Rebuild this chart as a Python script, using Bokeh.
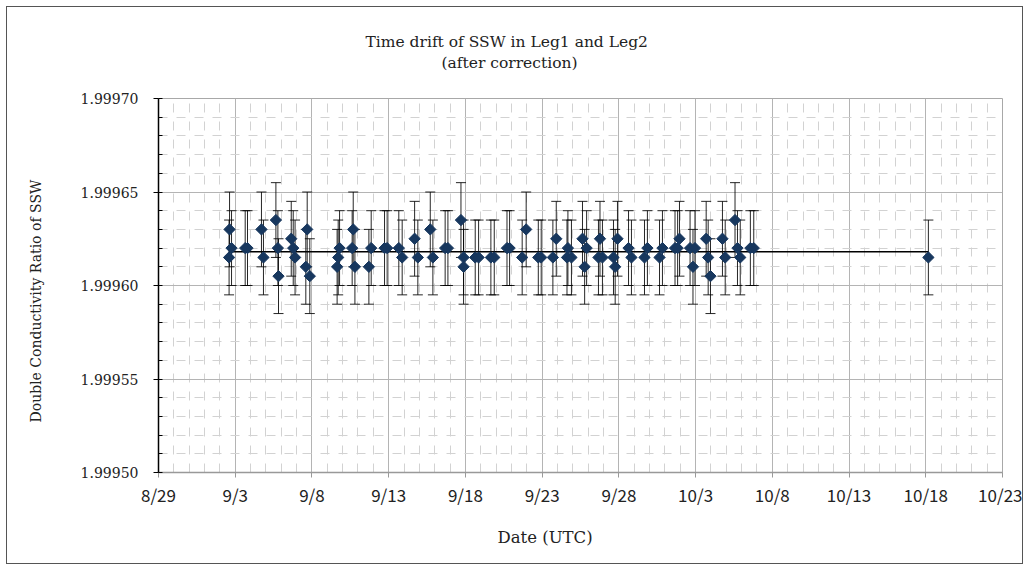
import math
from bokeh.plotting import figure
from bokeh.models import (FixedTicker, PrintfTickFormatter, Whisker, TeeHead,
                          ColumnDataSource, Title, Range1d)
from bokeh.embed import file_html
from bokeh.resources import INLINE

# ---- data (x = days since 8/29, y = double conductivity ratio) ----
DAYS = [
    4.63, 4.76, 4.60, 5.65, 5.80, 6.71, 6.84, 7.65, 7.78, 7.82,
    8.65, 8.78, 8.90, 9.69, 9.60, 9.86, 11.64, 11.71, 11.80, 12.69,
    12.62, 12.80, 13.71, 13.86, 14.73, 14.90, 15.66, 15.88, 16.69, 16.90,
    17.71, 17.88, 18.68, 18.86, 19.71, 19.88, 19.88, 20.64, 20.86, 21.66,
    21.88, 22.71, 22.88, 23.70, 23.96, 24.75, 24.94, 25.70, 25.92, 26.68,
    26.62, 26.91, 27.63, 27.90, 27.77, 28.67, 28.77, 28.93, 29.65, 29.76,
    29.91, 30.63, 30.82, 31.67, 31.86, 32.65, 32.84, 33.66, 33.83, 33.95,
    34.64, 34.96, 34.83, 35.69, 35.82, 35.97, 36.75, 36.93, 37.57, 37.73,
    37.91, 38.57, 38.79, 50.17,
]
VALUES = [
    1.99963, 1.99962, 1.999615, 1.99962, 1.99962, 1.99963, 1.999615, 1.999635, 1.99962, 1.999605,
    1.999625, 1.99962, 1.999615, 1.99963, 1.99961, 1.999605, 1.99961, 1.999615, 1.99962, 1.99963,
    1.99962, 1.99961, 1.99961, 1.99962, 1.99962, 1.99962, 1.99962, 1.999615, 1.999625, 1.999615,
    1.99963, 1.999615, 1.99962, 1.99962, 1.999635, 1.999615, 1.99961, 1.999615, 1.999615, 1.999615,
    1.999615, 1.99962, 1.99962, 1.999615, 1.99963, 1.999615, 1.999615, 1.999615, 1.999625, 1.99962,
    1.999615, 1.999615, 1.999625, 1.99962, 1.99961, 1.999615, 1.999625, 1.999615, 1.999615, 1.99961,
    1.999625, 1.99962, 1.999615, 1.999615, 1.99962, 1.999615, 1.99962, 1.99962, 1.99962, 1.999625,
    1.99962, 1.99962, 1.99961, 1.999625, 1.999615, 1.999605, 1.999625, 1.999615, 1.999635, 1.99962,
    1.999615, 1.99962, 1.99962, 1.999615,
]
ERROR_HALF = 0.00002
MEAN_VALUE = 1.999618

X_TICKS = [0, 5, 10, 15, 20, 25, 30, 35, 40, 45, 50, 55]
X_LABELS = ["8/29", "9/3", "9/8", "9/13", "9/18", "9/23", "9/28",
            "10/3", "10/8", "10/13", "10/18", "10/23"]
Y_TICKS = [1.99950, 1.99955, 1.99960, 1.99965, 1.99970]

TITLE_1 = "Time drift of SSW in Leg1 and Leg2"
TITLE_2 = "(after correction)"
X_TITLE = "Date (UTC)"
Y_TITLE = "Double Conductivity Ratio of  SSW"

SERIF = "DejaVu Serif"
SANS = "Noto Sans CJK JP"

p = figure(output_backend="svg", toolbar_location=None,
           frame_width=844, frame_height=374,
           min_border_left=151, min_border_right=20,
           min_border_top=91, min_border_bottom=84,
           x_range=Range1d(0, 55), y_range=Range1d(1.99950, 1.99970))
p.styles = {"border": "1px solid #555555", "margin": "6px"}
p.background_fill_color = "white"
p.border_fill_color = "white"
p.outline_line_color = "#a8a8a8"

# axes
xt = FixedTicker(ticks=X_TICKS, minor_ticks=list(range(0, 56)))
p.xaxis.ticker = xt
p.xaxis.major_label_overrides = {t: l for t, l in zip(X_TICKS, X_LABELS)}
p.xaxis.major_label_text_font = SANS
p.xaxis.major_label_text_font_size = "17px"
p.xaxis.major_label_text_color = "#222222"
p.xaxis.major_label_standoff = 4
p.xaxis.axis_line_color = "#999999"
p.xaxis.axis_line_width = 1.5
p.xaxis.major_tick_line_color = "#999999"
p.xaxis.major_tick_out = 5
p.xaxis.major_tick_in = 0
p.xaxis.minor_tick_out = 0
p.xaxis.minor_tick_in = 0

ymin = [round(1.99950 + i * 0.00001, 5) for i in range(21)]
yt = FixedTicker(ticks=Y_TICKS, minor_ticks=ymin)
p.yaxis.ticker = yt
p.yaxis.formatter = PrintfTickFormatter(format="%.5f")
p.yaxis.major_label_text_font = SERIF
p.yaxis.major_label_text_font_size = "14px"
p.yaxis.major_label_text_color = "#222222"
p.yaxis.major_label_standoff = 15
p.yaxis.axis_line_color = "black"
p.yaxis.axis_line_width = 1.5
p.yaxis.major_tick_line_color = "black"
p.yaxis.major_tick_out = 5
p.yaxis.major_tick_in = 0
p.yaxis.minor_tick_out = 0
p.yaxis.minor_tick_in = 4
p.yaxis.minor_tick_line_color = "black"

# grids
for g in (p.xgrid, p.ygrid):
    g.grid_line_color = "#b4b4b4"
    g.grid_line_width = 1
    g.minor_grid_line_color = "#d2d2d2"
    g.minor_grid_line_dash = "9 9"
    g.minor_grid_line_width = 1

# data
src = ColumnDataSource(dict(
    x=DAYS, y=VALUES,
    upper=[v + ERROR_HALF for v in VALUES],
    lower=[v - ERROR_HALF for v in VALUES],
))

p.line([min(DAYS), max(DAYS)], [MEAN_VALUE, MEAN_VALUE],
       line_color="black", line_width=1.5)

w = Whisker(source=src, base="x", upper="upper", lower="lower",
            dimension="height", line_color="black", line_width=1, line_alpha=0.85,
            upper_head=TeeHead(size=10, line_color="black", line_width=1, line_alpha=0.85),
            lower_head=TeeHead(size=10, line_color="black", line_width=1, line_alpha=0.85))
p.add_layout(w)

p.scatter("x", "y", source=src, marker="square", angle=math.pi / 4, size=8,
          fill_color="#17375E", line_color="#17375E")

# titles and axis titles
common = dict(text_font=SERIF, text_color="#222222", text_font_style="normal")
p.add_layout(Title(text=TITLE_2, align="left", offset=283, standoff=54,
                   text_font_size="15.5px", **common), "above")
p.add_layout(Title(text=TITLE_1, align="left", offset=207, standoff=-52,
                   text_font_size="15.5px", **common), "above")
p.add_layout(Title(text=X_TITLE, align="left", offset=339, standoff=33,
                   text_font_size="16.5px", **common), "below")
# spacer between the y axis and its title
p.add_layout(Title(text=" ", standoff=31, text_font_size="1px", **common), "left")
p.add_layout(Title(text=Y_TITLE, align="left", offset=50, standoff=0,
                   text_font_size="14px", **common), "left")

open("out.html", "w").write(file_html(p, INLINE))
